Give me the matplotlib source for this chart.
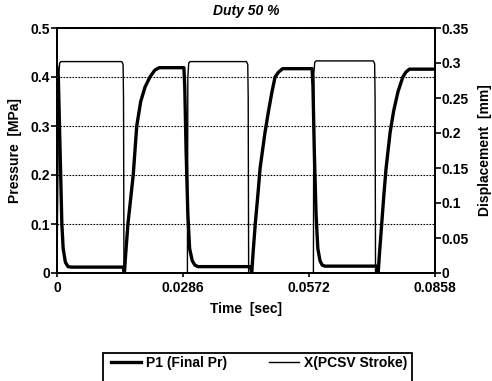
import matplotlib
matplotlib.use("Agg")
import matplotlib.pyplot as plt
from matplotlib.patches import Rectangle
from matplotlib.lines import Line2D

plt.rcParams['font.family'] = ['Liberation Sans', 'DejaVu Sans']
plt.rcParams['font.weight'] = 'bold'
plt.rcParams['font.size'] = 10

# Pressure P1 (Final Pr) [MPa]
time_p = [0.0, 0.0003, 0.0007, 0.0011, 0.0014, 0.0019, 0.0025, 0.0033,
          0.0150, 0.0153, 0.0156, 0.0161, 0.0167, 0.0173, 0.0181, 0.0190, 0.0200, 0.0211, 0.0222, 0.0232,
          0.0288, 0.0290, 0.0293, 0.0297, 0.0301, 0.0307, 0.0313, 0.0320,
          0.0439, 0.0442, 0.0445, 0.0450, 0.0456, 0.0461, 0.0472, 0.0480, 0.0488, 0.0495, 0.0503, 0.0512,
          0.0579, 0.0581, 0.0584, 0.0588, 0.0592, 0.0597, 0.0602, 0.0608,
          0.0726, 0.0729, 0.0732, 0.0737, 0.0742, 0.0747, 0.0756, 0.0764, 0.0774, 0.0785, 0.0792, 0.0800,
          0.0858]
pressure = [0.420, 0.400, 0.250, 0.100, 0.050, 0.022, 0.013, 0.012,
            0.012, 0.000, 0.040, 0.100, 0.150, 0.200, 0.300, 0.350, 0.380, 0.400, 0.414, 0.419,
            0.419, 0.380, 0.250, 0.120, 0.050, 0.025, 0.016, 0.013,
            0.013, 0.000, 0.040, 0.100, 0.160, 0.214, 0.286, 0.330, 0.370, 0.400, 0.410, 0.417,
            0.417, 0.380, 0.250, 0.120, 0.050, 0.025, 0.016, 0.014,
            0.014, 0.000, 0.040, 0.100, 0.160, 0.214, 0.286, 0.330, 0.370, 0.400, 0.410, 0.416,
            0.416]

# X (PCSV Stroke) [mm]
time_x = [0.0, 0.0004, 0.0006, 0.0009, 0.0147, 0.0150, 0.0151, 0.0152,
          0.0296, 0.0297, 0.0299, 0.0302, 0.0430, 0.0433, 0.0434, 0.0435,
          0.0582, 0.0583, 0.0585, 0.0588, 0.0718, 0.0721, 0.0722, 0.0723,
          0.0858]
stroke = [0.0, 0.280, 0.300, 0.302, 0.302, 0.298, 0.250, 0.0,
          0.0, 0.280, 0.300, 0.302, 0.302, 0.298, 0.250, 0.0,
          0.0, 0.285, 0.301, 0.303, 0.303, 0.299, 0.250, 0.0,
          0.0]

x_ticks = [0, 0.0286, 0.0572, 0.0858]
x_ticklabels = ['0', '0.0286', '0.0572', '0.0858']
left_ticks = [0, 0.1, 0.2, 0.3, 0.4, 0.5]
left_ticklabels = ['0', '0.1', '0.2', '0.3', '0.4', '0.5']
right_ticks = [0, 0.05, 0.1, 0.15, 0.2, 0.25, 0.3, 0.35]
right_ticklabels = ['0', '0.05', '0.1', '0.15', '0.2', '0.25', '0.3', '0.35']

fig = plt.figure(figsize=(4.92, 3.81), dpi=100)
ax = fig.add_axes([57/492, 1-273/381, (435-57)/492, (273-28)/381])
ax2 = ax.twinx()

ax.plot(time_p, pressure, color='black', lw=2.4, solid_joinstyle='round')
ax2.plot(time_x, stroke, color='black', lw=1.0)

ax.set_xlim(0, 0.0858)
ax.set_ylim(0, 0.5)
ax2.set_ylim(0, 0.35)

ax.set_xticks(x_ticks)
ax.set_xticklabels(x_ticklabels)
ax.set_yticks(left_ticks)
ax.set_yticklabels(left_ticklabels)
ax2.set_yticks(right_ticks)
ax2.set_yticklabels(right_ticklabels)

ax.yaxis.grid(True, linestyle=(0, (1.5, 1.2)), color='black', lw=0.8)
ax.tick_params(axis='y', direction='out', length=4, width=1.2, pad=1)
ax.tick_params(axis='x', direction='out', length=3, width=1.2, pad=3)
ax2.tick_params(axis='y', direction='out', length=4, width=1.2, pad=1)

for a in (ax, ax2):
    for s in a.spines.values():
        s.set_linewidth(1.3)
        s.set_color('black')

ax.set_title('Duty 50 %', fontsize=10, fontweight='bold', style='italic', pad=9)
ax.set_xlabel('Time  [sec]', fontsize=10, fontweight='bold', labelpad=5)
ax.set_ylabel('Pressure  [MPa]', fontsize=10, fontweight='bold', labelpad=6)
ax2.set_ylabel('Displacement  [mm]', fontsize=10, fontweight='bold', labelpad=6)

# legend box
fig.patches.append(Rectangle((103/492, 1-390/381), (412-103)/492, 37/381,
                             transform=fig.transFigure, fill=False,
                             edgecolor='black', lw=1.3))
handles = [Line2D([], [], color='black', lw=2.4), Line2D([], [], color='black', lw=1.0)]
fig.legend(handles, ['P1 (Final Pr)', 'X(PCSV Stroke)'], loc='center',
           bbox_to_anchor=(259/492, 1-363/381), ncol=2, frameon=False,
           handlelength=2.2, handletextpad=0.35, columnspacing=3.0,
           prop={'weight': 'bold', 'size': 10})

fig.savefig('out.png', dpi=100)
